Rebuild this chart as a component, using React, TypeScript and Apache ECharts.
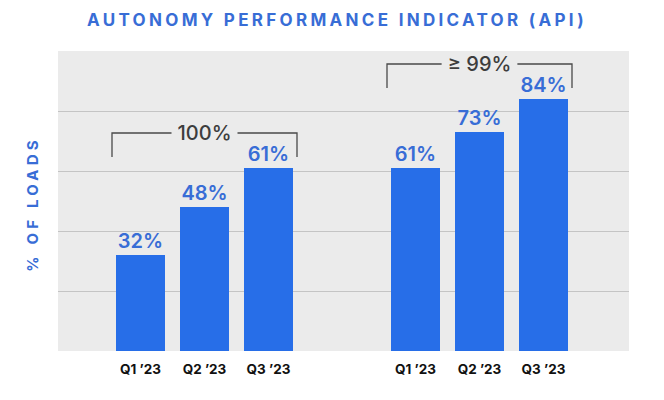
import React, { useEffect, useRef } from 'react';
import * as echarts from 'echarts';

const quarters = ['Q1 ’23', 'Q2 ’23', 'Q3 ’23'];
const firstGroupValues = [32, 48, 61];
const secondGroupValues = [61, 73, 84];
const bracketLabels = ['100%', '≥ 99%'];
const yTicks = { min: 0, max: 100, interval: 20 };

const TITLE = 'AUTONOMY PERFORMANCE INDICATOR (API)';
const Y_NAME = '% OF LOADS';
const FONT = 'Inter, "Noto Sans", sans-serif';
const BAR_BLUE = '#276ee8';
const LABEL_BLUE = '#386dd6';
const BAR_WIDTH = 49;

const bracketSeries = (idx: number, values: number[], label: string) => ({
    type: 'custom',
    xAxisIndex: idx,
    yAxisIndex: idx,
    silent: true,
    z: 3,
    clip: false,
    encode: { x: [0, 1], y: 2 },
    data: [[0, values.length - 1, Math.max(...values)]],
    renderItem: (params: any, api: any) => {
        const p0 = api.coord([api.value(0), api.value(2)]);
        const p1 = api.coord([api.value(1), api.value(2)]);
        const left = p0[0] - BAR_WIDTH / 2 - 4;
        const right = p1[0] + BAR_WIDTH / 2 + 4;
        const bottom = p0[1] - 11;
        const top = bottom - 24;
        return {
            type: 'group',
            children: [
                {
                    type: 'polyline',
                    shape: { points: [[left, bottom], [left, top], [right, top], [right, bottom]] },
                    style: { stroke: '#4a4a4a', lineWidth: 1.3, fill: 'none' },
                },
                {
                    type: 'text',
                    x: (left + right) / 2,
                    y: top,
                    style: {
                        text: label,
                        fill: '#3d3d3d',
                        fontSize: 20,
                        fontWeight: 500,
                        fontFamily: FONT,
                        align: 'center',
                        verticalAlign: 'middle',
                        backgroundColor: '#ebebeb',
                        padding: [0, 6],
                    },
                },
            ],
        };
    },
});

const barSeries = (idx: number, values: number[]) => ({
    type: 'bar',
    xAxisIndex: idx,
    yAxisIndex: idx,
    barWidth: BAR_WIDTH,
    itemStyle: { color: BAR_BLUE },
    label: {
        show: true,
        position: 'top',
        distance: 4,
        formatter: '{c}%',
        color: LABEL_BLUE,
        fontSize: 20,
        fontWeight: 600,
        fontFamily: FONT,
    },
    data: values,
});

const catAxis = (idx: number) => ({
    gridIndex: idx,
    type: 'category',
    data: quarters,
    axisLine: { show: false },
    axisTick: { show: false },
    axisLabel: { color: '#111', fontSize: 13.5, fontWeight: 700, fontFamily: FONT, margin: 11 },
});

const hiddenY = (idx: number) => ({
    gridIndex: idx,
    type: 'value',
    min: yTicks.min,
    max: yTicks.max,
    show: false,
    splitLine: { show: false },
});

const App = () => {
    const chartRef = useRef<HTMLDivElement>(null);

    useEffect(() => {
        if (!chartRef.current) return;
        const myChart = echarts.init(chartRef.current, null, { renderer: 'svg' });

        const option: any = {
            animation: false,
            graphic: [
                {
                    type: 'text',
                    x: 337,
                    y: 20,
                    style: {
                        text: TITLE,
                        fill: LABEL_BLUE,
                        fontSize: 17,
                        fontWeight: 700,
                        fontFamily: FONT,
                        align: 'center',
                        verticalAlign: 'middle',
                    },
                },
                {
                    type: 'text',
                    x: 32,
                    y: 204,
                    rotation: Math.PI / 2,
                    style: {
                        text: Y_NAME,
                        fill: LABEL_BLUE,
                        fontSize: 15,
                        fontWeight: 700,
                        fontFamily: FONT,
                        align: 'center',
                        verticalAlign: 'middle',
                    },
                },
            ],
            grid: [
                { left: 58, right: 35, top: 51, bottom: 49, show: true, backgroundColor: '#ebebeb', borderWidth: 0 },
                { left: 108.5, width: 192, top: 51, bottom: 49 },
                { left: 383.5, width: 192, top: 51, bottom: 49 },
            ],
            xAxis: [
                { gridIndex: 0, type: 'value', min: 0, max: 1, show: false, splitLine: { show: false } },
                catAxis(1),
                catAxis(2),
            ],
            yAxis: [
                {
                    gridIndex: 0,
                    type: 'value',
                    min: yTicks.min,
                    max: yTicks.max,
                    interval: yTicks.interval,
                    axisLine: { show: false },
                    axisTick: { show: false },
                    axisLabel: { show: false },
                    splitLine: {
                        show: true,
                        showMinLine: false,
                        showMaxLine: false,
                        lineStyle: { color: '#c4c4c4', width: 1 },
                    },
                },
                hiddenY(1),
                hiddenY(2),
            ],
            series: [
                barSeries(1, firstGroupValues),
                barSeries(2, secondGroupValues),
                bracketSeries(1, firstGroupValues, bracketLabels[0]),
                bracketSeries(2, secondGroupValues, bracketLabels[1]),
            ],
        };

        myChart.setOption(option);

        // echarts has no letter-spacing, so add it on the svg texts
        chartRef.current.querySelectorAll('text').forEach((t) => {
            if (t.textContent === TITLE) t.setAttribute('letter-spacing', '3.3');
            if (t.textContent === Y_NAME) t.setAttribute('letter-spacing', '4.2');
        });

        return () => {
            myChart.dispose();
        };
    }, []);

    return (
        <div
            ref={chartRef}
            style={{ position: 'fixed', left: 0, top: 0, width: 664, height: 400, background: '#fff' }}
        ></div>
    );
};

export default App;
